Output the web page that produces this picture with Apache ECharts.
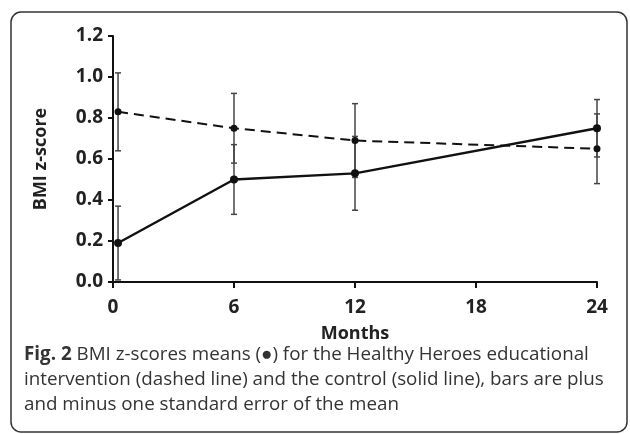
<!DOCTYPE html>
<html>
<head>
<meta charset="utf-8">
<script src="https://cdn.jsdelivr.net/npm/echarts@6/dist/echarts.min.js"></script>
<style>
  html, body { margin: 0; padding: 0; background: #fff; }
  #chart { width: 630px; height: 434px; }
</style>
</head>
<body>
<div id="chart"></div>
<script>
// 数据
var months = [0.25, 6, 12, 24];
var interventionMean = [0.83, 0.75, 0.69, 0.65];
var interventionLow = [0.64, 0.58, 0.51, 0.48];
var interventionHigh = [1.02, 0.92, 0.87, 0.82];
var controlMean = [0.19, 0.50, 0.53, 0.75];
var controlLow = [0.01, 0.33, 0.35, 0.61];
var controlHigh = [0.37, 0.67, 0.71, 0.89];
var yTicks = ['0.0', '0.2', '0.4', '0.6', '0.8', '1.0', '1.2'];

var myChart = echarts.init(document.getElementById('chart'));

function pairs(xs, ys) {
    var out = [];
    for (let i = 0; i < xs.length; i++) {
        out.push([xs[i], ys[i]]);
    }
    return out;
}

function bars(xs, lo, hi) {
    var out = [];
    for (let i = 0; i < xs.length; i++) {
        out.push([xs[i], lo[i], hi[i]]);
    }
    return out;
}

// 误差线
function renderErrorBar(params, api) {
    var x = api.value(0);
    var lo = api.coord([x, api.value(1)]);
    var hi = api.coord([x, api.value(2)]);
    var w = 3;
    var st = {stroke: '#444', lineWidth: 1.5};
    return {
        type: 'group',
        children: [
            {type: 'line', shape: {x1: lo[0], y1: lo[1], x2: hi[0], y2: hi[1]}, style: st},
            {type: 'line', shape: {x1: lo[0] - w, y1: lo[1], x2: lo[0] + w, y2: lo[1]}, style: st},
            {type: 'line', shape: {x1: hi[0] - w, y1: hi[1], x2: hi[0] + w, y2: hi[1]}, style: st}
        ]
    };
}

var labelFont = {
    fontFamily: 'Open Sans',
    fontWeight: 'bold',
    fontSize: 19,
    color: '#222'
};
var nameFont = {
    fontFamily: 'Open Sans',
    fontWeight: 'bold',
    fontSize: 18,
    color: '#222'
};

var option = {
    animation: false,
    grid: {
        left: 113,
        right: 33,
        top: 36,
        bottom: 152
    },
    xAxis: {
        type: 'value',
        min: 0,
        max: 24,
        interval: 6,
        name: 'Months',
        nameLocation: 'middle',
        nameGap: 43,
        nameTextStyle: nameFont,
        axisLine: {lineStyle: {color: '#111', width: 2}},
        axisTick: {length: 6, lineStyle: {color: '#111', width: 2}},
        axisLabel: Object.assign({margin: 16}, labelFont),
        splitLine: {show: false}
    },
    yAxis: {
        type: 'value',
        min: 0,
        max: 1.2,
        interval: 0.2,
        name: 'BMI z-score',
        nameLocation: 'middle',
        nameGap: 63,
        nameTextStyle: nameFont,
        axisLine: {show: true, lineStyle: {color: '#111', width: 2}},
        axisTick: {show: true, length: 5, lineStyle: {color: '#111', width: 2}},
        axisLabel: Object.assign({
            margin: 10,
            formatter: function (v) {
                return yTicks[Math.round(v / 0.2)];
            }
        }, labelFont),
        splitLine: {show: false}
    },
    series: [
        {
            name: 'intervention bars',
            type: 'custom',
            renderItem: renderErrorBar,
            data: bars(months, interventionLow, interventionHigh),
            z: 1
        },
        {
            name: 'control bars',
            type: 'custom',
            renderItem: renderErrorBar,
            data: bars(months, controlLow, controlHigh),
            z: 1
        },
        {
            name: 'Healthy Heroes',
            type: 'line',
            data: pairs(months, interventionMean),
            symbol: 'circle',
            symbolSize: 7,
            itemStyle: {color: '#111'},
            lineStyle: {color: '#111', width: 2, type: [10, 6]},
            z: 3
        },
        {
            name: 'Control',
            type: 'line',
            data: pairs(months, controlMean),
            symbol: 'circle',
            symbolSize: 8,
            itemStyle: {color: '#111'},
            lineStyle: {color: '#111', width: 2.4},
            z: 3
        }
    ],
    graphic: [
        {
            type: 'rect',
            shape: {x: 11, y: 12, width: 616, height: 420, r: 10},
            style: {fill: 'none', stroke: '#333', lineWidth: 1.5},
            silent: true
        },
        {
            type: 'text',
            left: 24,
            top: 342,
            style: {
                text: '{b|Fig. 2} BMI z-scores means (●) for the Healthy Heroes educational\nintervention (dashed line) and the control (solid line), bars are plus\nand minus one standard error of the mean',
                font: '18.8px "Open Sans"',
                fill: '#333',
                lineHeight: 25,
                rich: {
                    b: {
                        font: 'bold 18.8px "Open Sans"',
                        fill: '#333',
                        lineHeight: 25
                    }
                }
            }
        }
    ]
};

myChart.setOption(option);
</script>
</body>
</html>
